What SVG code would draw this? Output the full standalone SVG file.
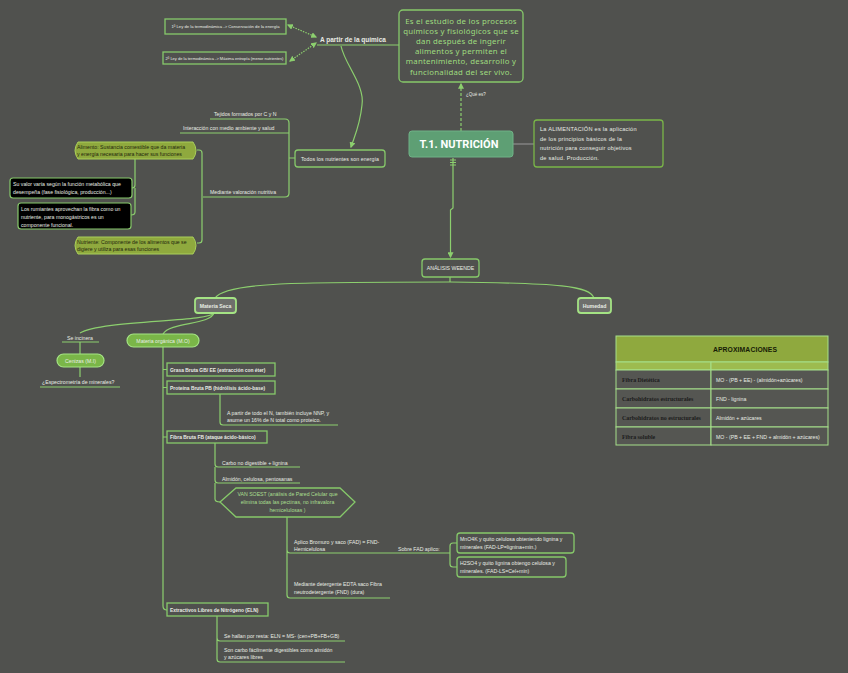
<svg xmlns="http://www.w3.org/2000/svg" width="848" height="673" viewBox="0 0 848 673">
<defs>
<marker id="ah" viewBox="0 0 10 10" refX="8" refY="5" markerWidth="5" markerHeight="5" orient="auto-start-reverse"><path d="M0,0 L10,5 L0,10 z" fill="#8ccf6e"/></marker>
<style>
.ln{fill:none;stroke:#8ccf6e;stroke-width:1.2}
.box{fill:#50514e;stroke:#86c96a;stroke-width:1.3}
.t{font-family:"Liberation Sans",Arial,sans-serif;fill:#e8ece4}
.s{font-size:5.2px}
.b{font-weight:bold}
.g{fill:#a9df8e}
.hand{font-family:"Noto Sans","Liberation Sans",sans-serif;fill:#9fdc7f}
.dk{fill:#1f260c}
.pill{fill:#7ab648;stroke:#a4e384;stroke-width:1.2}
.olive{fill:#8fa93e;stroke:#a9cf5a;stroke-width:1}
.gray{fill:#6e6f6c;stroke:#a4e384;stroke-width:1.8}
.blk{fill:#000;stroke:#86c96a;stroke-width:1.2}
.serif{font-family:"Liberation Serif","Times New Roman",serif;font-weight:bold;font-size:5.9px;fill:#1c1c1c}
</style>
</defs>
<rect width="848" height="673" fill="#50514e"/>

<g id="connectors">
<path class="ln" d="M288 25 L316 37" stroke-dasharray="1.5 1.2" marker-start="url(#ah)" marker-end="url(#ah)"/>
<path class="ln" d="M290 61 L316 43" stroke-dasharray="1.5 1.2" marker-start="url(#ah)" marker-end="url(#ah)"/>
<path class="ln" d="M317 45 H399"/>
<path class="ln" d="M341 46 C345 65,365 85,362 105 C360 125,355 135,351 147" marker-end="url(#ah)"/>
<path class="ln" d="M461 131 V84" stroke-dasharray="3 2" marker-end="url(#ah)"/>
<path d="M513 144 H534" stroke="#9a9a9a" stroke-width="1" fill="none"/>
<path class="ln" d="M453 158 V208 L450.5 210 V257" marker-end="url(#ah)"/>
<path class="ln" d="M450 160 H456 M450 162.5 H456 M450 165 H456" stroke-width="0.8"/>
<path class="ln" d="M450 277 V282"/>
<path class="ln" d="M450 282 C300 282,225 282,215 298"/>
<path class="ln" d="M450 282 C560 283,590 286,594 298"/>
<path class="ln" d="M214 313 C210 322,100 320,80 333"/>
<path class="ln" d="M214 313 C210 325,170 322,163 334"/>
<path class="ln" d="M62 342 H99 M80 342 V354 M80 367 V377 M40 387 H120"/>
<path class="ln" d="M163 347 V606 Q163 610 167 610 M163 369.5 H167 M163 387.5 H167 M163 437 H167"/>
<path class="ln" d="M220 394 V422 Q220 425 223 425 H338"/>
<path class="ln" d="M215 443 V464 Q215 467 218 467 H300 M215 467 V480 Q215 483 218 483 H300 M215 483 V499 Q215 502 220 502"/>
<path class="ln" d="M287 517 V595 Q287 598 290 598 H390 M287 550 Q287 553 290 553 H450 V546 Q450 543 453 543 H457 M450 553 V564 Q450 567 453 567 H457"/>
<path class="ln" d="M217 616 V659 Q217 662 220 662 H345 M217 638 Q217 641 220 641 H345"/>
<path class="ln" d="M210 119 H285 Q289 119 289 123 V193 Q289 197 285 197 H203 M180 133 H289 M289 158 H295"/>
<path class="ln" d="M197 150 H199 Q202 150 202 153 V240 Q202 243 199 243 H197"/>
<path class="ln" d="M135 159 V185 Q135 188 132 188 M135 188 V212 Q135 215 131 215"/>
</g>

<g id="ley1"><rect class="box" x="165" y="19" width="121" height="15"/><text class="t" x="225.5" y="28" font-size="4.2" text-anchor="middle">1ª Ley de la termodinámica -&gt; Conservación de la energía</text></g>
<g id="ley2"><rect class="box" x="163" y="52" width="123" height="12"/><text class="t" x="224.5" y="59.5" font-size="4" text-anchor="middle">2ª Ley de la termodinámica -&gt; Máxima entropía (menor nutrientes)</text></g>
<g id="quimica"><text class="t b" x="320" y="42" font-size="6.5">A partir de la química</text></g>
<g id="definicion"><rect class="box" x="399" y="10" width="124" height="72" rx="4"/>
<text class="hand" font-size="7.8" text-anchor="middle" letter-spacing="0.25"><tspan x="461" y="23.5">Es el estudio de los procesos</tspan><tspan x="461" y="33.8">químicos y fisiológicos que se</tspan><tspan x="461" y="43.5">dan después de ingerir</tspan><tspan x="461" y="53.5">alimentos y permiten el</tspan><tspan x="461" y="63.8">mantenimiento, desarrollo y</tspan><tspan x="461" y="74.5">funcionalidad del ser vivo.</tspan></text></g>
<g id="quees"><text class="t" x="466" y="96" font-size="4.5">¿Qué es?</text></g>
<g id="nutricion"><rect x="409" y="131" width="104" height="26" rx="3" fill="#5e9f74" stroke="#6fb286" stroke-width="1"/><text x="459" y="148" font-family="Roboto,'Liberation Sans',sans-serif" font-weight="bold" font-size="11" fill="#fff" text-anchor="middle">T.1. NUTRICIÓN</text></g>
<g id="alimentacion"><rect x="534" y="120" width="129" height="47" rx="3" fill="#50514e" stroke="#7ab648" stroke-width="1.3"/>
<text class="t" font-size="5.6" letter-spacing="0.25" font-family="'Noto Sans',sans-serif"><tspan x="540" y="131">La ALIMENTACIÓN es la aplicación</tspan><tspan x="540" y="140.5">de los principios básicos de la</tspan><tspan x="540" y="150">nutrición para conseguir objetivos</tspan><tspan x="540" y="159.5">de salud. Producción.</tspan></text></g>
<g id="todos"><rect class="box" x="295" y="150" width="90" height="17" rx="3"/><text class="t s" x="340" y="160.5" text-anchor="middle" letter-spacing="0.1">Todos los nutrientes son energía</text></g>
<g id="tejidos"><text class="t s" x="214" y="116">Tejidos formados por C y N</text></g>
<g id="interaccion"><text class="t s" x="183" y="130">Interacción con medio ambiente y salud</text></g>
<g id="valoracion"><text class="t s" x="210" y="194">Mediante valoración nutritiva</text></g>
<g id="alimento"><path class="olive" d="M78 142 H193 Q199 150.5 193 159 H78 Q72 150.5 78 142 Z"/><text class="t s dk"><tspan x="77" y="148.5">Alimento: Sustancia comestible que da materia</tspan><tspan x="77" y="156">y energía necesaria para hacer sus funciones</tspan></text></g>
<g id="valor"><rect class="blk" x="10" y="178" width="122" height="20" rx="3"/><text class="t s" fill="#fff"><tspan x="13" y="186">Su valor varía según la función metabólica que</tspan><tspan x="13" y="194">desempeña (fase fisiológica, producción...)</tspan></text></g>
<g id="rumiantes"><rect class="blk" x="18" y="203" width="113" height="26" rx="3"/><text class="t s"><tspan x="21" y="211">Los rumiantes aprovechan la fibra como un</tspan><tspan x="21" y="219">nutriente, para monogástricos es un</tspan><tspan x="21" y="227">componente funcional.</tspan></text></g>
<g id="nutriente"><path class="olive" d="M78 237 H193 Q199 245.5 193 254 H78 Q72 245.5 78 237 Z"/><text class="t s dk"><tspan x="77" y="243.5">Nutriente: Componente de los alimentos que se</tspan><tspan x="77" y="251">digiere y utiliza para esas funciones</tspan></text></g>
<g id="weende"><rect class="box" x="422" y="259" width="57" height="18" rx="3"/><text class="t" x="450.5" y="270" font-size="5.2" text-anchor="middle" fill="#b9d7a8">ANÁLISIS WEENDE</text></g>
<g id="materiaseca"><rect class="gray" x="195" y="298" width="41" height="15" rx="3"/><text class="t b" x="215.5" y="307.5" font-size="5.2" text-anchor="middle">Materia Seca</text></g>
<g id="humedad"><rect class="gray" x="578" y="298" width="33" height="15" rx="3"/><text class="t b" x="594.5" y="307.5" font-size="5.2" text-anchor="middle">Humedad</text></g>
<g id="incinera"><text class="t s" x="67" y="339.5">Se incinera</text></g>
<g id="cenizas"><rect class="pill" x="57" y="354" width="47" height="13" rx="6.5"/><text class="t s" x="80.5" y="362.5" text-anchor="middle">Cenizas (M.I)</text></g>
<g id="espectrometria"><text class="t s" x="42" y="384">¿Espectrometría de minerales?</text></g>
<g id="organica"><rect class="pill" x="127" y="334" width="72" height="13" rx="6.5"/><text class="t s" x="163" y="342.5" text-anchor="middle">Materia orgánica (M.O)</text></g>
<g id="grasa"><rect class="box" x="167" y="363" width="108" height="13"/><text class="t b" x="170" y="371.5" font-size="4.9">Grasa Bruta GB/ EE (extracción con éter)</text></g>
<g id="proteina"><rect class="box" x="167" y="381" width="108" height="13"/><text class="t b" x="170" y="389.5" font-size="4.9">Proteína Bruta PB (hidrólisis ácido-base)</text></g>
<g id="nnp"><text class="t s"><tspan x="227" y="414.5">A partir de todo el N, también incluye NNP, y</tspan><tspan x="227" y="422">asume un 16% de N total como proteico.</tspan></text></g>
<g id="fibra"><rect class="box" x="167" y="431" width="100" height="12"/><text class="t b" x="170" y="439" font-size="4.9">Fibra Bruta FB (ataque ácido-básico)</text></g>
<g id="carbo"><text class="t s" x="222" y="465">Carbo no digestible + lignina</text></g>
<g id="almidon"><text class="t s" x="222" y="480.5">Almidón, celulosa, pentosanas</text></g>
<g id="vansoest"><polygon class="box" points="220,502 236,488 340,488 355,502 340,517 236,517"/><text class="t s g" text-anchor="middle"><tspan x="287.5" y="496">VAN SOEST (análisis de Pared Celular que</tspan><tspan x="287.5" y="504">elimina todas las pectinas, no infravalora</tspan><tspan x="287.5" y="512">hemicelulosas )</tspan></text></g>
<g id="bromuro"><text class="t s"><tspan x="294" y="543.5">Aplico Bromuro y saco (FAD) = FND-</tspan><tspan x="294" y="551">Hemicelulosa</tspan></text></g>
<g id="sobrefad"><text class="t s" x="398" y="551">Sobre FAD aplico:</text></g>
<g id="mno4k"><rect class="box" x="457" y="533" width="117" height="20" rx="3"/><text class="t s"><tspan x="460" y="541">MnO4K y quito celulosa obteniendo  lignina y</tspan><tspan x="460" y="549">minerales (FAD-LP=lignina+min.)</tspan></text></g>
<g id="h2so4"><rect class="box" x="457" y="557" width="109" height="20" rx="3"/><text class="t s"><tspan x="460" y="565">H2SO4 y  quito lignina obtengo celulosa y</tspan><tspan x="460" y="573">minerales. (FAD-LS=Cel+min)</tspan></text></g>
<g id="edta"><text class="t s"><tspan x="294" y="586">Mediante detergente EDTA saco Fibra</tspan><tspan x="294" y="593.5">neutrodetergente (FND) (dura)</tspan></text></g>
<g id="eln"><rect class="box" x="167" y="603" width="101" height="13"/><text class="t b" x="170" y="611.5" font-size="4.9">Extractivos Libres de Nitrógeno (ELN)</text></g>
<g id="resta"><text class="t s" x="224" y="637.5">Se hallan por resta: ELN = MS- (cen+PB+FB+GB)</text></g>
<g id="facil"><text class="t s"><tspan x="224" y="651.5">Son carbo fácilmente digestibles como almidón</tspan><tspan x="224" y="659">y azúcares libres</tspan></text></g>

<g id="tabla">
<rect x="616" y="336" width="212" height="26" fill="#8fa93e" stroke="#a6e08a" stroke-width="1"/>
<rect x="616" y="362" width="95" height="8" fill="#9dbb4f" stroke="#a6e08a" stroke-width="1"/>
<rect x="711" y="362" width="117" height="8" fill="#9dbb4f" stroke="#a6e08a" stroke-width="1"/>
<g fill="#555652" stroke="#a6e08a" stroke-width="1">
<rect x="616" y="370" width="95" height="19"/><rect x="711" y="370" width="117" height="19"/>
<rect x="616" y="389" width="95" height="19"/><rect x="711" y="389" width="117" height="19"/>
<rect x="616" y="408" width="95" height="19"/><rect x="711" y="408" width="117" height="19"/>
<rect x="616" y="427" width="95" height="18"/><rect x="711" y="427" width="117" height="18"/>
</g>
<text x="745" y="352" font-family="'Liberation Sans',sans-serif" font-size="6.8" font-weight="bold" fill="#161b06" text-anchor="middle" letter-spacing="0.1">APROXIMACIONES</text>
<text class="serif" x="622" y="382">Fibra Dietética</text>
<text class="serif" x="622" y="401">Carbohidratos estructurales</text>
<text class="serif" x="622" y="420" font-size="5.5">Carbohidratos no estructurales</text>
<text class="serif" x="622" y="438.5">Fibra soluble</text>
<text class="t s" x="716" y="382">MO - (PB + EE) - (almidón+azúcares)</text>
<text class="t s" x="716" y="401">FND - lignina</text>
<text class="t s" x="716" y="420">Almidón + azúcares</text>
<text class="t s" x="716" y="438.5">MO - (PB + EE + FND + almidón + azúcares)</text>
</g>
</svg>
